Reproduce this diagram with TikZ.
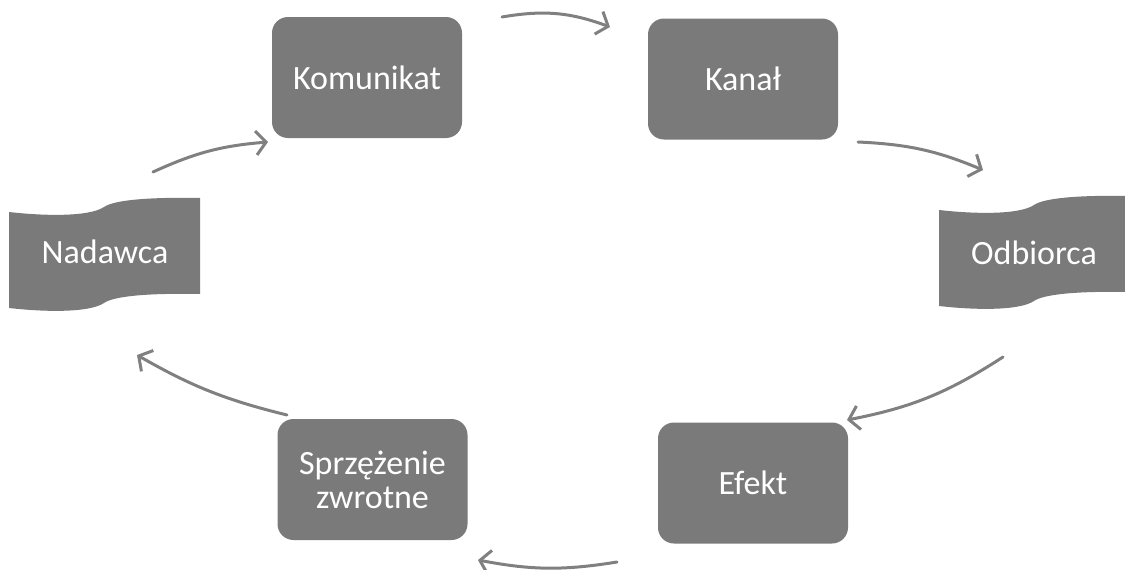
\documentclass[tikz,border=0pt]{standalone}
\usepackage{fontspec}
\setmainfont{Carlito}
\usetikzlibrary{arrows.meta}
\definecolor{boxgray}{RGB}{122,122,122}
\definecolor{arrgray}{RGB}{128,128,128}
\begin{document}
\begin{tikzpicture}[x=1pt,y=-1pt,
  box/.style={fill=boxgray, rounded corners=16pt, minimum width=190pt,
    minimum height=121pt, inner sep=0pt, text=white,
    font=\fontsize{34}{34}\selectfont},
  wtext/.style={text=white, font=\fontsize{34}{34}\selectfont, anchor=base, inner sep=0pt},
  arr/.style={draw=arrgray, line width=3pt, line cap=round,
    -{Straight Barb[length=10pt,width=24pt,line width=3pt]}}
]
\useasboundingbox (0,0) rectangle (1125,570);

% rounded boxes
\node[box] (kom) at (367,77.5) {Komunikat};
\node[box] (kan) at (743,79) {Kanał};
\node[box] (efe) at (753,483) {Efekt};
\node[box, align=center] (spr) at (372.5,479.5) {Sprzężenie\\zwrotne};

% wave shapes
\fill[boxgray, shift={(9,198)}] (0,14) .. controls (35,18) and (80,19) .. (95,9)
  .. controls (105,2) and (140,-1) .. (191,0)
  -- (191,96) .. controls (140,95) and (105,98) .. (95,105)
  .. controls (80,115) and (35,114) .. (0,110) -- cycle;
\fill[boxgray, shift={(939,196)}] (0,14) .. controls (35,18) and (80,19) .. (95,9)
  .. controls (105,2) and (140,-1) .. (191,0)
  -- (191,96) .. controls (140,95) and (105,98) .. (95,105)
  .. controls (80,115) and (35,114) .. (0,110) -- cycle;
\node[wtext] (nad) at (105,263) {Nadawca};
\node[wtext] (odb) at (1034,264) {Odbiorca};

% arrow end points
\coordinate (a1s) at (502,17);   \coordinate (a1e) at (610,27);
\coordinate (a2s) at (153,172);  \coordinate (a2e) at (268,142);
\coordinate (a3s) at (858,142);  \coordinate (a3e) at (983,170);
\coordinate (a4s) at (1003,357); \coordinate (a4e) at (847,420);
\coordinate (a5s) at (617,562);  \coordinate (a5e) at (478,560);
\coordinate (a6s) at (287,415);  \coordinate (a6e) at (137,355);

\draw[arr] (a1s) to[bend left=15] (a1e);
\draw[arr] (a2s) to[bend left=10] (a2e);
\draw[arr] (a3s) to[bend left=10] (a3e);
\draw[arr] (a4s) to[bend left=11] (a4e);
\draw[arr] (a5s) to[bend left=10] (a5e);
\draw[arr] (a6s) to[bend left=8] (a6e);
\end{tikzpicture}
\end{document}
